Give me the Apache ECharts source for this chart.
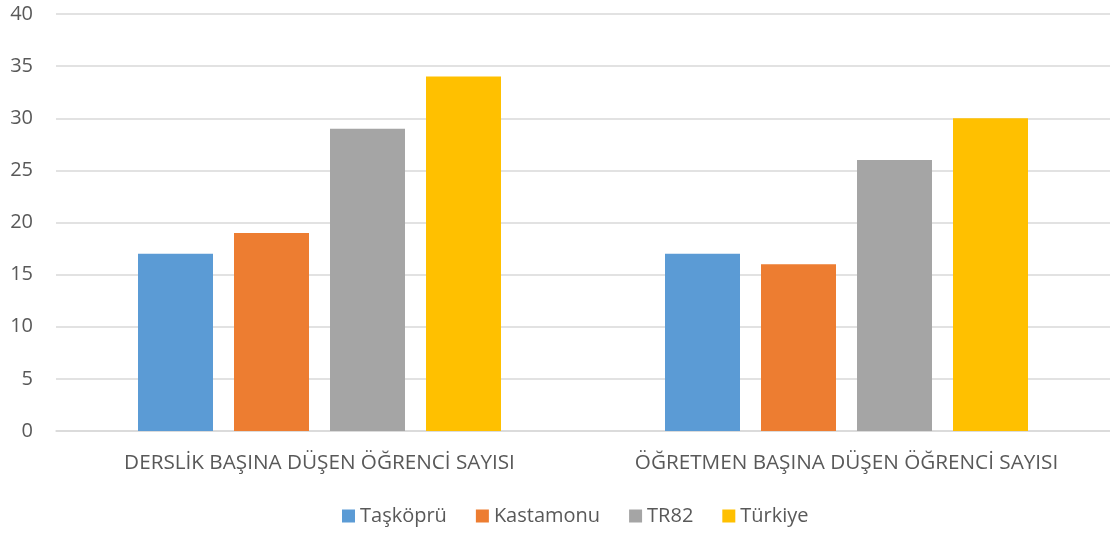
<!DOCTYPE html>
<html><head><meta charset="utf-8">
<script src="https://cdn.jsdelivr.net/npm/echarts@6/dist/echarts.min.js"></script>
<style>html,body{margin:0;padding:0;background:#fff}#c{width:1110px;height:534px}</style>
</head><body><div id="c"></div>
<script>
const categories = ['DERSLİK BAŞINA DÜŞEN ÖĞRENCİ SAYISI', 'ÖĞRETMEN BAŞINA DÜŞEN ÖĞRENCİ SAYISI'];
const seriesNames = ['Taşköprü', 'Kastamonu', 'TR82', 'Türkiye'];
const tasKopru = [17, 17];
const kastamonu = [19, 16];
const tr82 = [29, 26];
const turkiye = [34, 30];
const colors = ['#5b9bd5', '#ed7d31', '#a5a5a5', '#ffc000'];
const values = [tasKopru, kastamonu, tr82, turkiye];
const font = '"Open Sans", "Noto Sans", sans-serif';
const chart = echarts.init(document.getElementById('c'));
chart.setOption({
  animation: false,
  color: colors,
  grid: { left: 56, width: 1060, top: 14, bottom: 103, containLabel: false },
  legend: {
    bottom: 3, left: 337, itemWidth: 13, itemHeight: 13, itemGap: 29,
    icon: 'rect',
    textStyle: { fontFamily: font, fontSize: 20, color: '#595959' },
    data: seriesNames
  },
  xAxis: {
    type: 'category', data: categories,
    axisLine: { lineStyle: { color: '#d9d9d9', width: 1.5 } },
    axisTick: { show: false },
    axisLabel: { interval: 0, fontFamily: font, fontSize: 20.7, color: '#595959', margin: 22 }
  },
  yAxis: {
    type: 'value', min: 0, max: 40, interval: 5,
    axisLine: { show: false }, axisTick: { show: false },
    splitLine: { lineStyle: { color: '#d9d9d9', width: 1.5 } },
    axisLabel: { fontFamily: font, fontSize: 20, color: '#595959', margin: 23 }
  },
  series: seriesNames.map((n, i) => ({
    name: n, type: 'bar', data: values[i], barWidth: 75, barGap: '28%'
  }))
});
</script></body></html>
